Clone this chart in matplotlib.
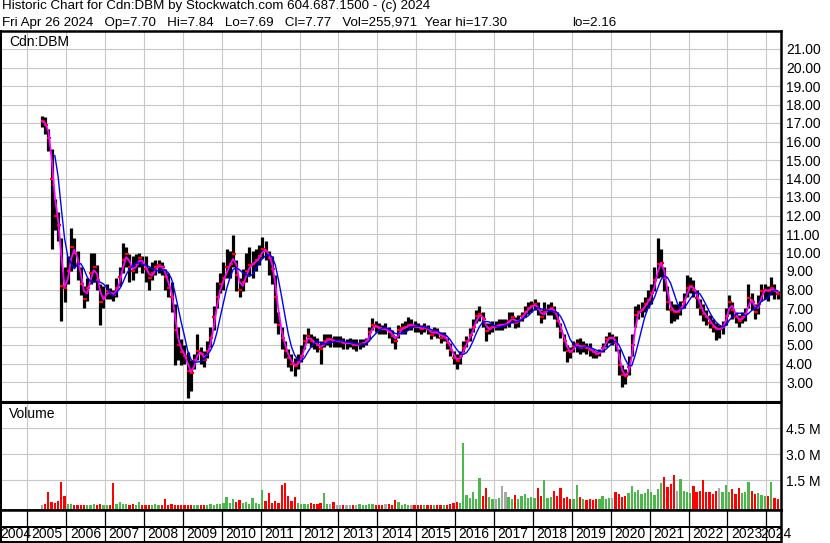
import numpy as np
import pandas as pd
import matplotlib
matplotlib.use('Agg')
import matplotlib.pyplot as plt

plt.rcParams['font.family'] = ['Liberation Sans', 'DejaVu Sans']

# monthly bars, May 2005 .. Apr 2024
first_month = '2005-05'
close = [
    17.1, 16.9, 16.2, 14.0, 12.0, 11.5, 8.2, 8.1,                      # 2005
    9.0, 10.3, 10.0, 9.4, 8.3, 7.5, 8.1, 8.9, 9.2, 8.5, 7.3, 7.6,       # 2006
    7.9, 7.8, 7.7, 8.1, 8.7, 9.6, 9.9, 9.2, 9.0, 9.4, 9.7, 9.4,         # 2007
    9.1, 8.6, 8.9, 9.2, 9.3, 9.2, 8.7, 8.1, 7.6, 5.8, 5.0, 4.6,         # 2008
    4.4, 3.6, 3.5, 4.2, 4.7, 4.5, 4.2, 4.7, 5.4, 6.5, 7.6, 8.3,         # 2009
    8.6, 9.2, 9.4, 9.9, 8.8, 8.0, 8.4, 9.0, 9.3, 9.4, 9.6, 9.8,         # 2010
    10.2, 10.1, 9.7, 9.1, 7.6, 6.1, 5.4, 4.7, 4.3, 4.0, 3.85, 4.1,      # 2011
    4.4, 5.2, 5.5, 5.2, 5.1, 5.0, 4.8, 5.2, 5.3, 5.3, 5.2, 5.2,         # 2012
    5.2, 5.1, 5.1, 5.1, 5.0, 5.0, 5.05, 5.1, 5.2, 5.7, 6.1, 6.0,        # 2013
    5.9, 5.85, 5.85, 5.7, 5.5, 5.2, 5.8, 5.9, 5.95, 6.1, 6.1, 6.0,      # 2014
    5.95, 5.85, 6.0, 5.85, 5.55, 5.75, 5.65, 5.4, 5.5, 5.1, 4.75, 4.3,  # 2015
    4.15, 4.4, 4.85, 5.2, 5.55, 6.0, 6.55, 6.65, 6.4, 5.75, 5.9, 6.0,   # 2016
    6.0, 6.1, 6.1, 6.1, 6.3, 6.5, 6.2, 6.3, 6.55, 6.8, 7.0, 7.1,        # 2017
    7.2, 6.95, 6.5, 6.8, 6.9, 7.0, 6.8, 6.3, 5.75, 5.2, 4.65, 4.6,      # 2018
    4.95, 5.05, 4.85, 4.95, 4.85, 4.75, 4.6, 4.5, 4.6, 4.85, 5.3, 5.4,  # 2019
    5.4, 5.1, 3.9, 3.4, 3.3, 3.8, 5.0, 6.6, 6.8, 6.9, 7.2, 7.45,        # 2020
    7.8, 8.5, 9.4, 9.45, 8.6, 7.3, 6.9, 6.8, 6.8, 7.0, 7.35, 8.1,       # 2021
    8.2, 8.0, 7.55, 7.0, 6.65, 6.5, 6.2, 6.0, 5.85, 5.85, 6.0, 6.55,    # 2022
    7.35, 6.9, 6.5, 6.3, 6.5, 6.65, 7.55, 7.35, 6.8, 7.2, 7.9, 8.0,     # 2023
    7.9, 8.1, 7.9, 7.77,                                                # 2024
]
high = [
    17.4, 17.3, 16.7, 15.6, 12.9, 12.2, 10.8, 9.2,
    9.8, 11.3, 10.8, 10.1, 9.2, 8.2, 8.6, 10.0, 10.0, 9.3, 8.3, 8.2,
    8.3, 8.1, 8.0, 8.6, 9.2, 10.5, 10.3, 9.9, 9.8, 9.9, 10.0, 9.8,
    9.8, 9.2, 9.5, 9.6, 9.6, 9.5, 9.1, 8.9, 8.4, 7.2, 6.0, 5.3,
    5.0, 4.6, 4.2, 4.5, 5.6, 4.9, 4.7, 5.2, 6.0, 7.1, 8.4, 8.9,
    9.5, 10.2, 10.1, 10.95, 9.6, 8.6, 9.1, 10.0, 10.3, 10.1, 10.2, 10.4,
    10.85, 10.6, 10.1, 9.8, 8.8, 6.8, 6.0, 5.2, 4.8, 4.5, 4.3, 4.5,
    5.0, 5.6, 5.9, 5.6, 5.5, 5.4, 5.2, 5.6, 5.6, 5.6, 5.5, 5.5,
    5.5, 5.4, 5.3, 5.4, 5.3, 5.3, 5.3, 5.3, 5.4, 6.0, 6.45, 6.3,
    6.2, 6.1, 6.2, 6.0, 5.8, 5.5, 6.1, 6.2, 6.3, 6.5, 6.4, 6.3,
    6.2, 6.1, 6.2, 6.1, 5.8, 6.0, 5.9, 5.7, 5.7, 5.4, 5.1, 4.7,
    4.5, 4.7, 5.2, 5.5, 5.9, 6.4, 6.9, 7.1, 6.8, 6.2, 6.2, 6.3,
    6.3, 6.4, 6.4, 6.4, 6.8, 6.8, 6.5, 6.6, 6.8, 7.1, 7.3, 7.4,
    7.5, 7.3, 6.9, 7.3, 7.2, 7.3, 7.1, 6.8, 6.2, 5.6, 5.0, 4.9,
    5.2, 5.3, 5.4, 5.2, 5.1, 5.1, 4.8, 4.7, 4.8, 5.1, 5.5, 5.7,
    5.6, 5.5, 4.8, 3.9, 3.7, 4.4, 5.6, 7.1, 7.2, 7.3, 7.6, 8.0,
    8.3, 9.2, 10.8, 10.2, 9.2, 8.2, 7.4, 7.2, 7.2, 7.4, 7.8, 8.8,
    8.7, 8.5, 8.0, 7.5, 7.2, 6.9, 6.6, 6.4, 6.2, 6.1, 6.3, 7.0,
    7.7, 7.3, 6.8, 6.6, 6.8, 7.0, 8.3, 7.8, 7.2, 7.7, 8.3, 8.3,
    8.2, 8.65, 8.3, 7.9,
]
low = [
    16.8, 16.4, 15.5, 10.2, 11.2, 10.6, 6.3, 7.3,
    8.3, 9.0, 9.2, 8.5, 7.7, 7.0, 7.4, 8.3, 8.4, 8.0, 6.1, 7.0,
    7.5, 7.5, 7.4, 7.6, 8.2, 8.9, 9.2, 8.4, 8.5, 8.9, 9.2, 8.9,
    8.4, 8.0, 8.5, 8.8, 8.9, 8.8, 8.0, 7.6, 6.8, 3.9, 4.2, 3.9,
    4.0, 2.16, 2.5, 3.7, 4.2, 4.0, 3.8, 4.3, 4.9, 5.8, 7.0, 7.8,
    8.0, 8.6, 8.6, 9.2, 7.9, 7.6, 7.9, 8.4, 8.8, 8.6, 9.0, 9.3,
    9.7, 9.6, 8.8, 8.3, 6.2, 5.6, 4.8, 4.3, 3.8, 3.6, 3.3, 3.7,
    4.1, 4.8, 5.1, 4.9, 4.8, 4.6, 4.0, 4.9, 5.0, 4.9, 4.9, 4.9,
    4.9, 4.8, 4.8, 4.9, 4.8, 4.7, 4.8, 4.9, 5.0, 5.3, 5.8, 5.7,
    5.6, 5.6, 5.6, 5.4, 5.1, 4.8, 5.4, 5.6, 5.6, 5.8, 5.8, 5.7,
    5.7, 5.6, 5.7, 5.6, 5.3, 5.5, 5.4, 5.1, 5.2, 4.8, 4.4, 4.0,
    3.7, 4.0, 4.6, 4.9, 5.2, 5.7, 6.2, 6.3, 6.0, 5.2, 5.6, 5.7,
    5.8, 5.8, 5.8, 5.9, 6.0, 6.2, 5.9, 6.0, 6.3, 6.5, 6.7, 6.8,
    6.9, 6.6, 6.2, 6.4, 6.6, 6.6, 6.4, 6.0, 5.4, 4.7, 4.1, 4.3,
    4.6, 4.6, 4.5, 4.6, 4.5, 4.4, 4.3, 4.3, 4.4, 4.6, 4.9, 5.1,
    5.0, 4.7, 3.4, 2.75, 2.9, 3.4, 4.4, 6.0, 6.4, 6.5, 6.8, 7.0,
    7.2, 7.9, 8.6, 8.7, 7.9, 6.9, 6.2, 6.3, 6.4, 6.6, 7.0, 7.6,
    7.8, 7.6, 7.0, 6.6, 6.3, 6.1, 5.9, 5.7, 5.25, 5.4, 5.6, 6.1,
    6.7, 6.4, 6.2, 6.0, 6.2, 6.3, 7.0, 6.9, 6.4, 6.7, 7.4, 7.5,
    7.4, 7.7, 7.5, 7.5,
]
# volume in millions of shares
volume = [
    0.1, 0.15, 0.84, 0.25, 0.2, 0.3, 1.41, 0.59,
    0.15, 0.12, 0.1, 0.08, 0.1, 0.08, 0.1, 0.1, 0.12, 0.1, 0.12, 0.08,
    0.1, 0.1, 1.37, 0.15, 0.23, 0.12, 0.15, 0.1, 0.12, 0.1, 0.27, 0.1,
    0.1, 0.1, 0.08, 0.12, 0.1, 0.08, 0.4, 0.1, 0.12, 0.08, 0.08, 0.06,
    0.06, 0.06, 0.08, 0.05, 0.06, 0.08, 0.06, 0.1, 0.12, 0.1, 0.12, 0.15,
    0.2, 0.53, 0.2, 0.4, 0.25, 0.34, 0.2, 0.25, 0.15, 0.46, 0.2, 0.15,
    0.93, 0.3, 0.74, 0.2, 0.3, 0.2, 1.21, 1.37, 0.6, 0.3, 0.53, 0.2,
    0.15, 0.15, 0.12, 0.2, 0.15, 0.12, 0.2, 0.74, 0.15, 0.12, 0.25, 0.1,
    0.1, 0.08, 0.1, 0.08, 0.08, 0.1, 0.15, 0.08, 0.1, 0.12, 0.15, 0.1,
    0.08, 0.1, 0.12, 0.12, 0.1, 0.35, 0.25, 0.1, 0.12, 0.1, 0.08, 0.1,
    0.08, 0.1, 0.08, 0.1, 0.08, 0.06, 0.1, 0.08, 0.06, 0.1, 0.12, 0.2,
    0.25, 0.2, 3.65, 0.65, 0.5, 0.8, 0.45, 1.65, 0.6, 1.08, 0.55, 0.4,
    0.45, 0.5, 1.2, 0.84, 0.55, 0.4, 0.65, 0.45, 0.6, 0.72, 0.5, 0.55,
    0.5, 1.08, 0.6, 1.54, 0.46, 0.55, 0.87, 0.6, 1.06, 0.5, 0.55, 0.45,
    0.45, 1.25, 0.55, 0.4, 0.36, 0.4, 0.35, 0.45, 0.4, 0.61, 0.45, 0.5,
    0.5, 0.84, 0.7, 0.55, 0.6, 0.75, 1.16, 0.8, 0.93, 0.7, 0.75, 1.02,
    0.8, 0.65, 1.0, 1.35, 1.69, 1.12, 1.27, 1.82, 0.9, 1.56, 0.9, 0.8,
    0.74, 1.2, 0.8, 0.9, 1.54, 0.8, 0.84, 0.7, 0.9, 1.08, 0.8, 1.25,
    0.8, 1.02, 0.7, 1.06, 0.75, 0.8, 1.43, 0.9, 0.7, 0.75, 0.65, 0.6,
    0.6, 1.43, 0.5, 0.45,
]

header_1 = "Historic Chart for Cdn:DBM by Stockwatch.com 604.687.1500 - (c) 2024"
header_2 = ("Fri Apr 26 2024   Op=7.70   Hi=7.84   Lo=7.69   Cl=7.77   "
            "Vol=255,971  Year hi=17.30")
header_2b = "lo=2.16"
symbol = "Cdn:DBM"
price_ticks = list(range(3, 22))
volume_ticks = [1.5, 3.0, 4.5]
year_labels = list(range(2004, 2025))

W, H = 830, 543
PX_YEAR = 38.9
X0 = 2005 - 26.3 / PX_YEAR
X1 = 2024 + 14.7 / PX_YEAR
GRID = '#c8c8c8'
FS = 10


def box(left, top, right, bottom):
    # pixel box -> figure fraction rect
    return [left / W, 1 - bottom / H, (right - left) / W, (bottom - top) / H]


def frame(ax, top=1.44, bottom=1.44, left=1.44, right=1.8):
    for side, lw in (('top', top), ('bottom', bottom), ('left', left), ('right', right)):
        ax.spines[side].set_linewidth(lw)
        ax.spines[side].set_color('black')


def main():
    months = pd.period_range(first_month, periods=len(close), freq='M')
    x = np.array(months.year + (months.month - 0.5) / 12.0)
    c = pd.Series(close)
    ma_fast = c.rolling(2, min_periods=1).mean()
    ma_slow = c.rolling(5).mean()
    prev = c.shift(1).fillna(c.iloc[0])
    vol_colors = ['#ff0000' if a < b else ('#4cb84c' if a > b else '#a8a8a8')
                  for a, b in zip(c, prev)]

    fig = plt.figure(figsize=(W / 100, H / 100), dpi=100, facecolor='white')

    fig.text(2 / W, 1 - 9.5 / H, header_1, fontsize=9.6, va='baseline')
    fig.text(2 / W, 1 - 26 / H, header_2, fontsize=9.6, va='baseline')
    fig.text(572 / W, 1 - 26 / H, header_2b, fontsize=9.6, va='baseline')

    # price panel
    ax = fig.add_axes(box(1, 30.5, 781, 400.5))
    ax.set_xlim(X0, X1)
    ax.set_ylim(2.0, 22.0)
    ax.set_xticks(range(2005, 2025))
    ax.set_xticklabels([])
    ax.set_yticks(price_ticks)
    ax.set_yticklabels(['%.2f' % v for v in price_ticks])
    ax.yaxis.tick_right()
    ax.tick_params(length=0, labelsize=FS, pad=3.6)
    ax.tick_params(axis='x', bottom=False)
    ax.grid(True, color=GRID, lw=0.8)
    ax.set_axisbelow(True)
    frame(ax, top=1.8, bottom=0.8)

    ax.vlines(x, low, high, color='black', lw=2.3)
    ax.plot(x + 0.25 / 12, close, ls='none', marker='_', ms=2.5, mew=1.6, color='red')
    ax.plot(x, ma_fast, color='#ff00ff', lw=1.3)
    ax.plot(x, ma_slow, color='#0000ff', lw=1.0)
    fig.text(9.3 / W, 1 - 45.7 / H, symbol, fontsize=FS, va='baseline')

    # volume panel
    vax = fig.add_axes(box(1, 402.5, 781, 509.5))
    vax.set_xlim(X0, X1)
    vax.set_ylim(-0.185, 6.0)
    vax.set_xticks(range(2005, 2025))
    vax.set_xticklabels([])
    vax.set_yticks(volume_ticks)
    vax.set_yticklabels(['%.1f M' % v for v in volume_ticks])
    vax.yaxis.tick_right()
    vax.tick_params(length=0, labelsize=FS, pad=3.6)
    vax.grid(True, color=GRID, lw=0.8)
    vax.set_axisbelow(True)
    frame(vax, top=1.44, bottom=1.8)
    vax.bar(x, np.array(volume) + 0.185, bottom=-0.185, width=0.7 / 12,
            color=vol_colors, lw=0)
    fig.text(9.3 / W, 1 - 417.7 / H, 'Volume', fontsize=FS, va='baseline')

    # year strip
    tax = fig.add_axes(box(1, 509.5, 781, 541.5))
    tax.set_xlim(X0, X1)
    tax.set_ylim(0, 1)
    tax.set_xticks([])
    tax.set_yticks([])
    frame(tax, top=1.8, bottom=1.44)
    tax.vlines(range(2005, 2025), 0, 1, color='black', lw=0.9)
    tax.axhline(0.45, color='black', lw=1.44)
    for yr in year_labels:
        if yr == 2004:
            xp = X0 - 1.0 / PX_YEAR
        elif yr == 2024:
            xp = yr - 6.3 / PX_YEAR
        else:
            xp = yr + 3.6 / PX_YEAR
        tax.text(xp, 0.22, str(yr), fontsize=FS, ha='left', va='center', clip_on=False)

    fig.savefig('out.png', dpi=100)


if __name__ == "__main__":
    main()
